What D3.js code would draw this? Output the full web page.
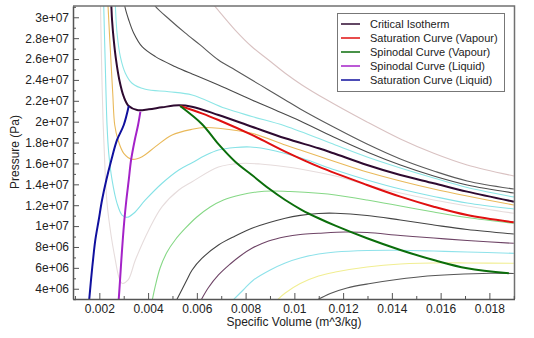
<!DOCTYPE html>
<html><head><meta charset="utf-8">
<script src="https://cdn.jsdelivr.net/npm/d3@7/dist/d3.min.js"></script>
<style>
body{margin:0;background:#fff;}
svg{display:block;font-family:"Liberation Sans",Arial,sans-serif;}
</style></head><body>
<svg id="chart" width="534" height="338"></svg>
<script>
// ---- tick values ----
const xTicks = [0.002, 0.004, 0.006, 0.008, 0.01, 0.012, 0.014, 0.016, 0.018];
const xMinorTicks = [0.001, 0.003, 0.005, 0.007, 0.009, 0.011, 0.013, 0.015, 0.017, 0.019];
const yTicks = [4e6, 6e6, 8e6, 1e7, 1.2e7, 1.4e7, 1.6e7, 1.8e7, 2e7, 2.2e7, 2.4e7, 2.6e7, 2.8e7, 3e7];
const yMinorTicks = [3e6, 5e6, 7e6, 9e6, 1.1e7, 1.3e7, 1.5e7, 1.7e7, 1.9e7, 2.1e7, 2.3e7, 2.5e7, 2.7e7, 2.9e7, 3.1e7];

// ---- isotherms above the critical temperature: [specific volume m^3/kg, pressure Pa] ----
const isoHot1 = [[0.006341,32.14e6],[0.006752,31.02e6],[0.007573,28.78e6],[0.008259,27.18e6],[0.008941,25.91e6],[0.009626,24.64e6],[0.010312,23.52e6],[0.011269,22.17e6],[0.012982,19.97e6],[0.014349,18.34e6],[0.015717,16.97e6],[0.017088,15.85e6],[0.019002,14.80e6]];
const isoHot2 = [[0.004082,31.94e6],[0.004287,31.08e6],[0.004903,29.74e6],[0.00552,28.50e6],[0.006136,27.35e6],[0.006887,25.91e6],[0.007573,24.95e6],[0.008259,23.99e6],[0.008941,23.04e6],[0.009626,22.08e6],[0.010242,21.22e6],[0.01161,19.49e6],[0.012982,17.86e6],[0.014349,16.43e6],[0.015717,15.28e6],[0.017088,14.32e6],[0.019002,13.55e6]];
const isoHot3 = [[0.00301,32.14e6],[0.003043,31.08e6],[0.003207,29.74e6],[0.003413,28.47e6],[0.003754,27.18e6],[0.0043,26.23e6],[0.005121,25.27e6],[0.005807,24.57e6],[0.006887,23.52e6],[0.008259,22.08e6],[0.009216,21.12e6],[0.010242,20.07e6],[0.01161,18.53e6],[0.012982,17.10e6],[0.014349,15.85e6],[0.015717,14.80e6],[0.017088,13.94e6],[0.019002,13.17e6]];
const isoHot4 = [[0.002628,32.14e6],[0.002657,31.08e6],[0.002727,28.47e6],[0.002862,26.23e6],[0.003068,24.64e6],[0.003343,23.68e6],[0.003889,23.10e6],[0.00485,22.87e6],[0.005807,22.56e6],[0.007162,21.28e6],[0.008259,20.50e6],[0.009626,19.59e6],[0.01168,17.77e6],[0.012982,16.62e6],[0.014349,15.57e6],[0.015717,14.61e6],[0.017088,13.70e6],[0.019002,12.79e6]];

// ---- critical isotherm ----
const criticalIsotherm = [[0.002472,32.14e6],[0.002493,31.08e6],[0.002522,29.74e6],[0.002591,27.83e6],[0.002686,25.91e6],[0.002821,23.99e6],[0.003002,22.39e6],[0.003207,21.50e6],[0.003548,21.12e6],[0.004029,21.19e6],[0.004575,21.38e6],[0.005261,21.57e6],[0.005795,21.44e6],[0.006887,20.64e6],[0.008259,19.52e6],[0.009626,18.41e6],[0.010994,17.45e6],[0.01161,16.97e6],[0.012982,15.85e6],[0.014349,14.89e6],[0.015717,14.10e6],[0.017088,13.30e6],[0.019002,12.34e6]];

// ---- isotherms below the critical temperature ----
const isoSub1 = [[0.002345,32.14e6],[0.002357,31.08e6],[0.002452,26.87e6],[0.00255,22.72e6],[0.002632,19.68e6],[0.002768,18.25e6],[0.003002,16.97e6],[0.003343,16.40e6],[0.003754,16.65e6],[0.0043,17.61e6],[0.004986,18.73e6],[0.005807,19.27e6],[0.006341,19.44e6],[0.006887,19.37e6],[0.008259,18.89e6],[0.009626,17.77e6],[0.010242,17.29e6],[0.01168,16.17e6],[0.012982,15.18e6],[0.014349,14.32e6],[0.015717,13.55e6],[0.017088,12.88e6],[0.019002,12.02e6]];
const isoSub2 = [[0.002172,32.14e6],[0.002181,31.08e6],[0.002246,25.27e6],[0.002316,19.68e6],[0.002386,16.97e6],[0.002522,14.42e6],[0.002727,12.18e6],[0.002932,11.06e6],[0.003138,10.84e6],[0.003413,11.23e6],[0.003889,12.50e6],[0.004575,14.10e6],[0.005261,15.37e6],[0.005807,16.07e6],[0.006341,16.76e6],[0.006887,17.29e6],[0.007573,17.53e6],[0.008189,17.58e6],[0.008941,17.34e6],[0.010312,16.49e6],[0.01168,15.37e6],[0.012982,14.42e6],[0.014349,13.55e6],[0.015717,12.84e6],[0.017088,12.21e6],[0.019002,11.64e6]];
const isoSub3 = [[0.002041,32.14e6],[0.002049,31.08e6],[0.00209,25.91e6],[0.002152,20.16e6],[0.002234,15.37e6],[0.002316,12.21e6],[0.00248,9.15e6],[0.002657,6.75e6],[0.002797,5.15e6],[0.002932,4.52e6],[0.003179,4.84e6],[0.003478,6.75e6],[0.004029,9.63e6],[0.004575,11.86e6],[0.005261,13.46e6],[0.005807,14.25e6],[0.006887,15.66e6],[0.007778,16.00e6],[0.0086,15.95e6],[0.009626,15.69e6],[0.010242,15.47e6],[0.01168,14.80e6],[0.012982,13.94e6],[0.014349,13.17e6],[0.015717,12.50e6],[0.017088,11.93e6],[0.019002,11.23e6]];
const isoSub4 = [[0.004164,2.83e6],[0.004287,4.17e6],[0.004493,5.99e6],[0.00478,7.52e6],[0.005109,8.67e6],[0.00552,9.77e6],[0.006,10.87e6],[0.006546,11.83e6],[0.007092,12.50e6],[0.007778,12.98e6],[0.008464,13.27e6],[0.009092,13.36e6],[0.009832,13.31e6],[0.010994,13.14e6],[0.01168,12.98e6],[0.012982,12.50e6],[0.014349,11.93e6],[0.015717,11.35e6],[0.017088,10.82e6],[0.019002,10.27e6]];
const isoSub5 = [[0.00515,2.83e6],[0.005589,4.84e6],[0.005807,5.80e6],[0.006205,6.90e6],[0.006887,8.19e6],[0.007573,9.05e6],[0.008259,9.79e6],[0.009626,10.75e6],[0.010242,11.03e6],[0.010994,11.21e6],[0.01168,11.23e6],[0.012982,11.02e6],[0.014349,10.58e6],[0.015717,10.11e6],[0.017088,9.67e6],[0.019002,9.24e6]];
const isoSub6 = [[0.006156,2.83e6],[0.006464,4.07e6],[0.006887,5.32e6],[0.007368,6.37e6],[0.007778,7.14e6],[0.008259,7.87e6],[0.008941,8.57e6],[0.009626,8.98e6],[0.010242,9.20e6],[0.010994,9.31e6],[0.01209,9.43e6],[0.012982,9.39e6],[0.014349,9.10e6],[0.015717,8.86e6],[0.017088,8.62e6],[0.019002,8.35e6]];
const isoSub7 = [[0.00745,2.83e6],[0.007901,3.88e6],[0.008324,4.84e6],[0.00901,5.80e6],[0.009626,6.47e6],[0.010242,6.94e6],[0.010994,7.33e6],[0.01168,7.52e6],[0.012982,7.66e6],[0.014349,7.68e6],[0.015717,7.61e6],[0.017088,7.52e6],[0.019002,7.39e6]];
const isoSub8 = [[0.009257,2.83e6],[0.009626,3.59e6],[0.010242,4.50e6],[0.010994,5.22e6],[0.01168,5.60e6],[0.012982,6.08e6],[0.014349,6.37e6],[0.016197,6.49e6],[0.017088,6.47e6],[0.019002,6.44e6]];
const isoSub9 = [[0.010858,2.83e6],[0.011474,3.54e6],[0.01216,4.07e6],[0.013117,4.50e6],[0.014349,4.93e6],[0.01517,5.15e6],[0.016538,5.36e6],[0.018045,5.48e6],[0.019002,5.46e6]];

// ---- saturation and spinodal curves ----
const saturationVapour = [[0.005314,21.50e6],[0.006205,20.80e6],[0.006887,20.16e6],[0.008259,18.73e6],[0.009626,17.13e6],[0.010994,15.69e6],[0.012982,13.94e6],[0.014349,12.82e6],[0.015717,11.86e6],[0.017088,11.06e6],[0.019002,10.36e6]];
const spinodalVapour = [[0.005314,21.50e6],[0.006205,19.78e6],[0.006887,17.85e6],[0.007573,16.17e6],[0.008259,14.89e6],[0.008941,13.62e6],[0.009626,12.50e6],[0.010312,11.54e6],[0.010994,10.75e6],[0.01168,10.04e6],[0.012982,8.83e6],[0.014349,7.71e6],[0.015717,6.75e6],[0.017088,5.96e6],[0.018797,5.48e6]];
const spinodalLiquid = [[0.00278,2.44e6],[0.00285,4.84e6],[0.002903,6.75e6],[0.002961,8.67e6],[0.003027,10.58e6],[0.003109,12.50e6],[0.003207,14.42e6],[0.003302,16.33e6],[0.003454,18.25e6],[0.003589,19.68e6],[0.003684,20.96e6]];
const saturationLiquid = [[0.001565,2.44e6],[0.001659,4.84e6],[0.001741,6.75e6],[0.001836,8.67e6],[0.001975,10.58e6],[0.002111,12.50e6],[0.002287,14.42e6],[0.002493,16.33e6],[0.002727,18.25e6],[0.003002,19.68e6],[0.003207,21.50e6]];

const legendLabels = ["Critical Isotherm", "Saturation Curve (Vapour)", "Spinodal Curve (Vapour)", "Spinodal Curve (Liquid)", "Saturation Curve (Liquid)"];

// ---- layout ----
const svg = d3.select("#chart");
const plot = {left: 73, right: 514.5, top: 6, bottom: 299};
const x = d3.scaleLinear().domain([0.00092, 0.01903]).range([plot.left, plot.right]);
const y = d3.scaleLinear().domain([3.017e6, 31.08e6]).range([plot.bottom, plot.top]);

svg.append("rect").attr("width", 534).attr("height", 338).attr("fill", "#fff");

svg.append("clipPath").attr("id", "plotClip")
  .append("rect").attr("x", plot.left).attr("y", plot.top)
  .attr("width", plot.right - plot.left).attr("height", plot.bottom - plot.top);

const line = d3.line().x(d => x(d[0])).y(d => y(d[1])).curve(d3.curveCatmullRom.alpha(0.5));
const layer = svg.append("g").attr("clip-path", "url(#plotClip)");

const thin = [
  [isoHot1, "#d9c2c2"], [isoHot2, "#5a5a5a"], [isoHot3, "#4a4a4a"], [isoHot4, "#8de6e6"],
  [isoSub1, "#e9b95a"], [isoSub2, "#86e2e6"], [isoSub3, "#e6dcdc"], [isoSub4, "#86d886"],
  [isoSub5, "#444444"], [isoSub6, "#6e4466"], [isoSub7, "#8ee2ea"], [isoSub8, "#f1ee92"], [isoSub9, "#555555"]
];
thin.forEach(([data, c]) => {
  layer.append("path").attr("d", line(data)).attr("fill", "none")
    .attr("stroke", c).attr("stroke-width", 1.1);
});

const thick = [
  [criticalIsotherm, "#2e0a30"],
  [saturationVapour, "#e01010"],
  [spinodalVapour, "#0b6e0b"],
  [spinodalLiquid, "#a422c8"],
  [saturationLiquid, "#10109e"]
];
thick.forEach(([data, c]) => {
  layer.append("path").attr("d", line(data)).attr("fill", "none")
    .attr("stroke", c).attr("stroke-width", 2).attr("stroke-linejoin", "round");
});

// ---- frame and axes ----
svg.append("path")
  .attr("d", `M${plot.left},${plot.top}H${plot.right}V${plot.bottom}`)
  .attr("fill", "none").attr("stroke", "#707070").attr("stroke-width", 1.5);

const fmtY = v => v.toExponential().replace(/e\+(\d)$/, "e+0$1");
const fmtX = v => String(+v.toFixed(3));

function styleAxis(g) {
  g.select(".domain").attr("stroke", "#555").attr("stroke-width", 1.5);
  g.selectAll(".tick line").attr("stroke", "#555");
  g.selectAll(".tick text").attr("fill", "#222").attr("font-size", 12)
    .attr("font-family", "'Liberation Sans', Arial, sans-serif");
}

svg.append("g").attr("transform", `translate(0,${plot.bottom})`)
  .call(d3.axisBottom(x).tickValues(xMinorTicks).tickSize(-3).tickSizeOuter(0).tickFormat(""))
  .call(g => { g.select(".domain").remove(); g.selectAll(".tick line").attr("stroke", "#555"); });
svg.append("g").attr("transform", `translate(0,${plot.bottom})`)
  .call(d3.axisBottom(x).tickValues(xTicks).tickSize(-6).tickSizeOuter(0).tickPadding(5).tickFormat(fmtX))
  .call(styleAxis);

svg.append("g").attr("transform", `translate(${plot.left},0)`)
  .call(d3.axisLeft(y).tickValues(yMinorTicks).tickSize(-3).tickSizeOuter(0).tickFormat(""))
  .call(g => { g.select(".domain").remove(); g.selectAll(".tick line").attr("stroke", "#555"); });
svg.append("g").attr("transform", `translate(${plot.left},0)`)
  .call(d3.axisLeft(y).tickValues(yTicks).tickSize(-6).tickSizeOuter(0).tickPadding(4).tickFormat(fmtY))
  .call(styleAxis);

svg.append("text").attr("x", 294).attr("y", 326).attr("text-anchor", "middle")
  .attr("font-size", 12).attr("fill", "#222").text("Specific Volume (m^3/kg)");
svg.append("text").attr("transform", "translate(19,152) rotate(-90)").attr("text-anchor", "middle")
  .attr("font-size", 12).attr("fill", "#222").text("Pressure (Pa)");

// ---- legend ----
const legendColors = thick.map(d => d[1]);
const lg = svg.append("g");
lg.append("rect").attr("x", 337.5).attr("y", 13.5).attr("width", 167).attr("height", 78)
  .attr("fill", "#fff").attr("stroke", "#777").attr("stroke-width", 1);
legendLabels.forEach((t, i) => {
  const cy = 24 + i * 14;
  lg.append("line").attr("x1", 341).attr("x2", 360).attr("y1", cy).attr("y2", cy)
    .attr("stroke", legendColors[i]).attr("stroke-width", 1.5);
  lg.append("text").attr("x", 370).attr("y", cy + 4).attr("font-size", 11)
    .attr("fill", "#222").text(t);
});
</script>
</body></html>
